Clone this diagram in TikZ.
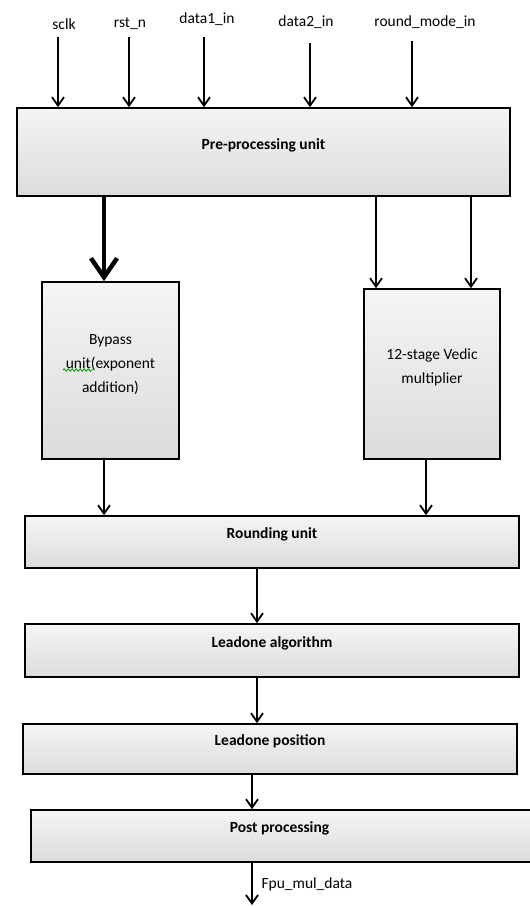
\documentclass[tikz,border=0pt]{standalone}
\usepackage{fontspec}
\setmainfont{Carlito}
\usetikzlibrary{arrows.meta, decorations.pathmorphing}

\begin{document}
\begin{tikzpicture}[line join=miter, x=1pt, y=-1pt,
    font=\fontsize{15.5}{24}\selectfont,
    unit/.style={draw=black, line width=1.6pt, top color=gray!8, bottom color=gray!28, inner sep=0pt},
    title/.style={font=\fontsize{15.5}{24}\selectfont\bfseries},
    sig/.style={line width=1.8pt, -{Straight Barb[length=8.5pt,width=12pt]}},
    bus/.style={line width=4.5pt, -{Straight Barb[length=19pt,width=26pt]}}]

    \useasboundingbox (0,0) rectangle (530,906);

    % processing blocks
    \node[unit, minimum width=493, minimum height=88] (pre) at (263.5,152) [label={[title, yshift=7pt]center:Pre-processing unit}] {};
    \node[unit, minimum width=137, minimum height=177] (bypass) at (110.5,370.5) [label={[yshift=6pt, align=center]center:Bypass\\unit(exponent\\addition)}] {};
    \node[unit, minimum width=136, minimum height=170] (vedic) at (432,374) [label={[yshift=7pt, align=center]center:12-stage Vedic\\multiplier}] {};
    \node[unit, minimum width=494, minimum height=52] (round) at (272,542) [label={[title, yshift=8pt]center:Rounding unit}] {};
    \node[unit, minimum width=494, minimum height=53] (leadalg) at (272,650.5) [label={[title, yshift=7pt]center:Leadone algorithm}] {};
    \node[unit, minimum width=494, minimum height=50] (leadpos) at (270,749) [label={[title, yshift=8pt]center:Leadone position}] {};
    \node[unit, minimum width=505, minimum height=52] (post) at (283.5,836) [label={[title, xshift=-4pt, yshift=8pt]center:Post processing}] {};

    % spell-check mark under "unit"
    \draw[green!60!black, line width=0.8pt, decorate, decoration={snake, amplitude=1.2pt, segment length=4pt}] (63,370) -- (93,370);

    % input signals
    \node[anchor=base] (sclk) at (64,29) {sclk};
    \node[anchor=base] (rstn) at (130,27) {rst\_n};
    \node[anchor=base] (data1) at (207,23) {data1\_in};
    \node[anchor=base] (data2) at (306,26) {data2\_in};
    \node[anchor=base] (rmode) at (425,26) {round\_mode\_in};

    \coordinate (sclk-in) at (58,37);
    \coordinate (rstn-in) at (129,37);
    \coordinate (data1-in) at (204,37);
    \coordinate (data2-in) at (310,43);
    \coordinate (rmode-in) at (412,41);

    \draw[sig] (sclk-in) -- (sclk-in |- pre.north);
    \draw[sig] (rstn-in) -- (rstn-in |- pre.north);
    \draw[sig] (data1-in) -- (data1-in |- pre.north);
    \draw[sig] (data2-in) -- (data2-in |- pre.north);
    \draw[sig] (rmode-in) -- (rmode-in |- pre.north);

    % arrow columns
    \coordinate (bp) at (104,0);
    \coordinate (vd1) at (376,0);
    \coordinate (vd2) at (471,0);
    \coordinate (vd3) at (426,0);
    \coordinate (mid1) at (257,0);
    \coordinate (mid2) at (252,0);
    \coordinate (out) at (252,905);

    \draw[bus] (bp |- pre.south) -- (bp |- bypass.north);
    \draw[sig] (vd1 |- pre.south) -- (vd1 |- vedic.north);
    \draw[sig] (vd2 |- pre.south) -- (vd2 |- vedic.north);
    \draw[sig] (bp |- bypass.south) -- (bp |- round.north);
    \draw[sig] (vd3 |- vedic.south) -- (vd3 |- round.north);
    \draw[sig] (mid1 |- round.south) -- (mid1 |- leadalg.north);
    \draw[sig] (mid1 |- leadalg.south) -- (mid1 |- leadpos.north);
    \draw[sig] (mid2 |- leadpos.south) -- (mid2 |- post.north);
    \draw[sig] (mid2 |- post.south) -- (out);

    \node[anchor=base west] (outlb) at (258,888) {Fpu\_mul\_data};

\end{tikzpicture}
\end{document}
